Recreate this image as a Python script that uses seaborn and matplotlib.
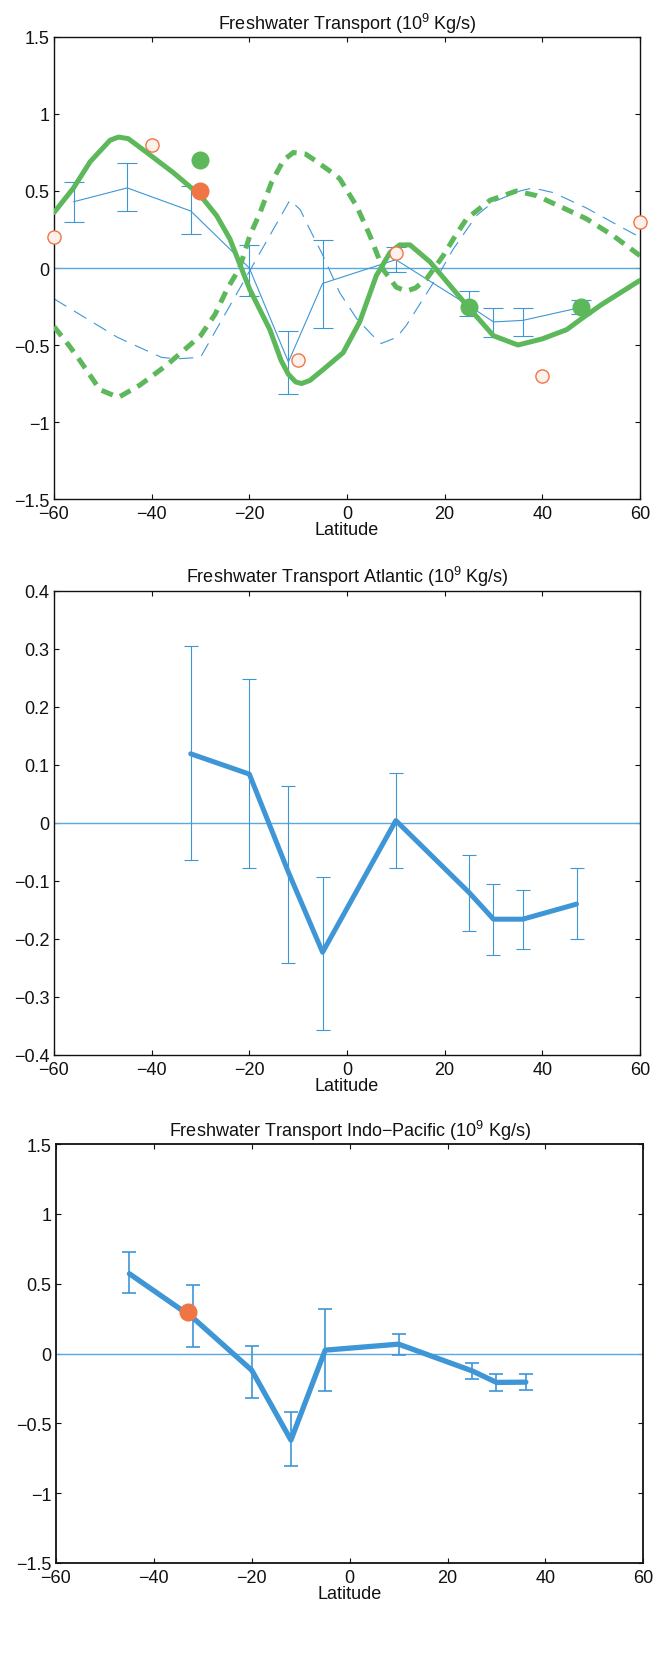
import numpy as np
import matplotlib
matplotlib.use("Agg")
import matplotlib.pyplot as plt
from matplotlib.ticker import FuncFormatter
import seaborn as sns

# ---- panel 1: global freshwater transport ----
glob_lat = [-56, -45, -32, -20, -12, -5, 10, 25, 30, 36, 48]
glob_val = [0.43, 0.52, 0.37, 0.0, -0.61, -0.10, 0.054, -0.245, -0.35, -0.34, -0.255]
glob_lo = [0.30, 0.37, 0.22, -0.18, -0.82, -0.39, -0.024, -0.31, -0.45, -0.44, -0.30]
glob_hi = [0.556, 0.68, 0.534, 0.15, -0.41, 0.18, 0.134, -0.15, -0.26, -0.26, -0.21]

model_lat = [-60, -47, -38, -35, -30, -11.7, -9.6, -7.6, -4.9, -1.5, 2, 5.3, 7, 10.2, 12.2,
             15.6, 19, 21.7, 26.5, 30, 35.4, 38, 42.2, 49, 55.9, 60]
model_val = [-0.2, -0.45, -0.58, -0.59, -0.58, 0.44, 0.38, 0.25, 0.08, -0.16, -0.33, -0.44,
             -0.49, -0.45, -0.37, -0.2, -0.03, 0.12, 0.34, 0.43, 0.5, 0.52, 0.49, 0.39, 0.27, 0.2]

green_lat = [-60, -56, -52.6, -48.5, -46.8, -44.8, -41, -35.6, -30, -26.7, -24, -19.9, -15.8,
             -13.5, -12, -10.5, -9.3, -7.6, -4.9, -0.8, 2.6, 6, 8.8, 10.8, 12.9, 17, 21, 25,
             30, 35, 40, 45, 48, 52, 56, 60]
green_val = [0.36, 0.52, 0.69, 0.83, 0.85, 0.84, 0.75, 0.62, 0.47, 0.34, 0.19, -0.14, -0.40,
             -0.60, -0.69, -0.74, -0.75, -0.73, -0.66, -0.55, -0.35, -0.05, 0.10, 0.15, 0.15,
             0.04, -0.11, -0.26, -0.44, -0.50, -0.46, -0.40, -0.33, -0.24, -0.16, -0.08]

gdash_lat = [-60, -57, -54.7, -50.6, -46.8, -42.4, -36.9, -30, -27, -24.6, -22, -19.9, -17.8,
             -15.4, -13, -11, -8.5, -6.6, -3.1, -1.5, 2, 4.7, 7.4, 10.1, 12.2, 14, 16.3, 19.7,
             22, 24.5, 29.3, 34.7, 38.8, 43.6, 49, 54.5, 60]
gdash_val = [-0.38, -0.5, -0.6, -0.79, -0.84, -0.76, -0.63, -0.44, -0.3, -0.14, 0.0, 0.21,
             0.36, 0.56, 0.70, 0.75, 0.74, 0.70, 0.62, 0.58, 0.40, 0.21, -0.01, -0.125, -0.15,
             -0.13, -0.07, 0.08, 0.2, 0.32, 0.44, 0.5, 0.47, 0.4, 0.32, 0.21, 0.08]

green_dot_lat = [-30, 25, 48]
green_dot_val = [0.70, -0.25, -0.25]
orange_dot_lat = [-30]
orange_dot_val = [0.50]
open_lat = [-60, -40, -10, 10, 40, 60]
open_val = [0.2, 0.8, -0.6, 0.1, -0.7, 0.3]

# ---- panel 2: Atlantic ----
atl_lat = [-32, -20, -12, -5, 10, 25, 30, 36, 47]
atl_val = [0.119, 0.084, -0.085, -0.223, 0.004, -0.12, -0.166, -0.166, -0.14]
atl_lo = [-0.064, -0.078, -0.242, -0.357, -0.078, -0.186, -0.228, -0.217, -0.2]
atl_hi = [0.304, 0.248, 0.064, -0.093, 0.086, -0.056, -0.106, -0.115, -0.078]

# ---- panel 3: Indo-Pacific ----
ip_lat = [-45, -32, -20, -12, -5, 10, 25, 30, 36]
ip_val = [0.571, 0.255, -0.12, -0.62, 0.024, 0.067, -0.124, -0.207, -0.205]
ip_lo = [0.43, 0.048, -0.317, -0.805, -0.27, -0.01, -0.18, -0.27, -0.26]
ip_hi = [0.73, 0.49, 0.052, -0.42, 0.32, 0.143, -0.07, -0.145, -0.15]
ip_dot_lat = [-33]
ip_dot_val = [0.30]

BLUE = "#3e96d6"
ZERO = "#5aa8e0"
GREEN = "#5cb85a"
ORANGE = "#f07545"

sns.set_style("ticks")
plt.rcParams["font.family"] = ["Liberation Sans", "DejaVu Sans"]
plt.rcParams["mathtext.default"] = "regular"
FS = 13


def fmt(v, pos):
    v = round(v, 3)
    if v == 0:
        return "0"
    return ("%g" % v).replace("-", "\u2212")


def style_axes(ax, yticks, title, spine_w=1.0):
    ax.set_xlim(-60, 60)
    ax.set_ylim(yticks[0], yticks[-1])
    ax.set_xticks(np.arange(-60, 61, 20))
    ax.set_yticks(yticks)
    ax.xaxis.set_major_formatter(FuncFormatter(fmt))
    ax.yaxis.set_major_formatter(FuncFormatter(fmt))
    ax.tick_params(direction="in", length=3.6, width=0.8, top=True, right=True,
                   labelsize=FS, colors="#111111")
    ax.tick_params(axis="x", pad=4.5)
    ax.tick_params(axis="y", pad=3.5)
    for s in ax.spines.values():
        s.set_visible(True)
        s.set_linewidth(spine_w)
        s.set_color("#111111")
    ax.set_xlabel("Latitude", fontsize=FS, labelpad=-1, color="#111111")
    ax.set_ylabel("")
    ax.set_title(title, fontsize=FS, pad=6, color="#111111")


def errbars(ax, lat, val, lo, hi, cap, lw):
    val = np.array(val)
    yerr = [val - np.array(lo), np.array(hi) - val]
    ax.errorbar(lat, val, yerr=yerr, fmt="none", ecolor=BLUE, elinewidth=lw,
                capsize=cap, capthick=lw, zorder=3)


fig = plt.figure(figsize=(6.65, 16.58), dpi=100)
ax1 = fig.add_axes([0.0812, 0.6984, 0.8812, 0.2787])
ax2 = fig.add_axes([0.0812, 0.3631, 0.8812, 0.2800])
ax3 = fig.add_axes([0.0842, 0.0567, 0.8832, 0.2527])

# panel 1
ax1.axhline(0, color=ZERO, lw=1.0, zorder=1)
sns.lineplot(x=model_lat, y=model_val, ax=ax1, color=BLUE, lw=0.8,
             estimator=None, sort=False, zorder=2)
ax1.lines[-1].set_dashes([13, 8])
sns.lineplot(x=glob_lat, y=glob_val, ax=ax1, color=BLUE, lw=0.8,
             estimator=None, sort=False, zorder=3)
errbars(ax1, glob_lat, glob_val, glob_lo, glob_hi, cap=7, lw=0.8)
sns.lineplot(x=gdash_lat, y=gdash_val, ax=ax1, color=GREEN, lw=3.6,
             estimator=None, sort=False, zorder=4)
ax1.lines[-1].set_dashes([2.4, 1.6])
sns.lineplot(x=green_lat, y=green_val, ax=ax1, color=GREEN, lw=3.6,
             estimator=None, sort=False, zorder=5)
sns.scatterplot(x=green_dot_lat, y=green_dot_val, ax=ax1, color=GREEN, s=13 ** 2,
                linewidth=0, zorder=6)
sns.scatterplot(x=orange_dot_lat, y=orange_dot_val, ax=ax1, color=ORANGE, s=13 ** 2,
                linewidth=0, zorder=6)
ax1.scatter(open_lat, open_val, s=9.5 ** 2, facecolor="#fdf1ec", edgecolor=ORANGE,
            linewidth=1.0, zorder=7, clip_on=False)
style_axes(ax1, [-1.5, -1, -0.5, 0, 0.5, 1, 1.5], "Freshwater Transport (10$^9$ Kg/s)")

# panel 2
ax2.axhline(0, color=ZERO, lw=1.0, zorder=1)
errbars(ax2, atl_lat, atl_val, atl_lo, atl_hi, cap=5, lw=0.8)
sns.lineplot(x=atl_lat, y=atl_val, ax=ax2, color=BLUE, lw=3.6,
             estimator=None, sort=False, zorder=4)
style_axes(ax2, np.round(np.arange(-0.4, 0.41, 0.1), 1),
           "Freshwater Transport Atlantic (10$^9$ Kg/s)")

# panel 3
ax3.axhline(0, color=ZERO, lw=1.0, zorder=1)
errbars(ax3, ip_lat, ip_val, ip_lo, ip_hi, cap=5.3, lw=1.2)
sns.lineplot(x=ip_lat, y=ip_val, ax=ax3, color=BLUE, lw=3.8,
             estimator=None, sort=False, zorder=4)
sns.scatterplot(x=ip_dot_lat, y=ip_dot_val, ax=ax3, color=ORANGE, s=13 ** 2,
                linewidth=0, zorder=6)
style_axes(ax3, [-1.5, -1, -0.5, 0, 0.5, 1, 1.5],
           "Freshwater Transport Indo\u2212Pacific (10$^9$ Kg/s)", spine_w=1.3)

fig.savefig("out.png", dpi=100)
